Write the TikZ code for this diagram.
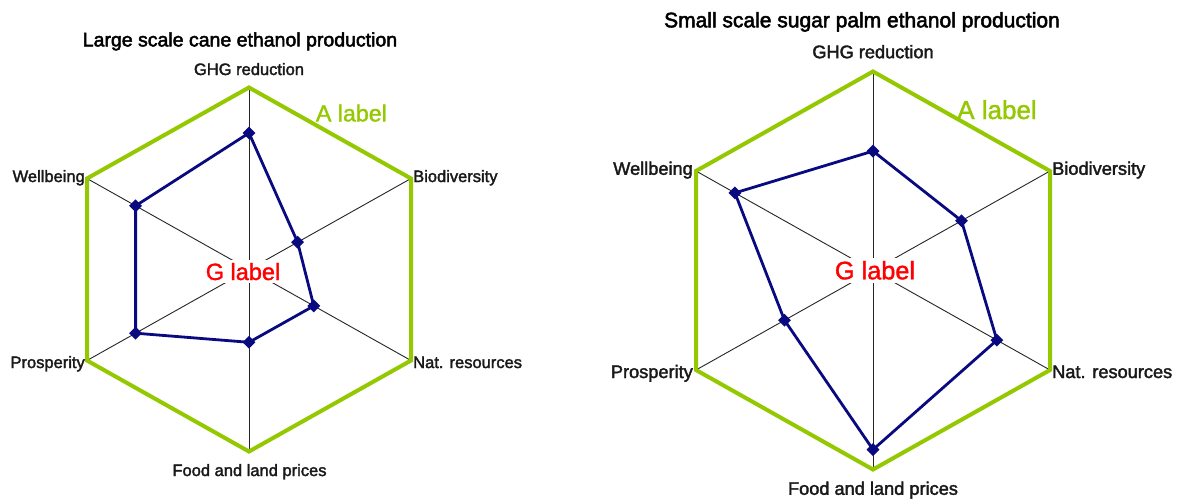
\documentclass[tikz,border=0pt]{standalone}
\usepackage{fontspec}
\setmainfont{Liberation Sans}
\newfontfamily\lblfont{Liberation Sans}[FakeBold=2.0]
\newfontfamily\ttlfont{Liberation Sans}[FakeBold=2.4]
\newfontfamily\bigfont{Liberation Sans}[FakeBold=1.4]
\usetikzlibrary{calc,shapes.geometric}
\definecolor{hexgreen}{RGB}{148,200,0}
\definecolor{datablue}{RGB}{10,10,128}
\definecolor{glabelred}{RGB}{255,0,0}
\newcommand{\radarframe}[5]{%
  \coordinate (#1c) at (#2,#3);
  \coordinate (#1v1) at ($(#1c)+(0,-#5)$);
  \coordinate (#1v2) at ($(#1c)+(#4,-#5/2)$);
  \coordinate (#1v3) at ($(#1c)+(#4,#5/2)$);
  \coordinate (#1v4) at ($(#1c)+(0,#5)$);
  \coordinate (#1v5) at ($(#1c)+(-#4,#5/2)$);
  \coordinate (#1v6) at ($(#1c)+(-#4,-#5/2)$);
}
\newcommand{\radardata}[7]{%
  \coordinate (#1p1) at ($(#1c)!#2!(#1v1)$);
  \coordinate (#1p2) at ($(#1c)!#3!(#1v2)$);
  \coordinate (#1p3) at ($(#1c)!#4!(#1v3)$);
  \coordinate (#1p4) at ($(#1c)!#5!(#1v4)$);
  \coordinate (#1p5) at ($(#1c)!#6!(#1v5)$);
  \coordinate (#1p6) at ($(#1c)!#7!(#1v6)$);
}
\tikzset{
  axisline/.style={draw=black!85, line width=0.9pt},
  hexline/.style={draw=hexgreen, line width=4pt, line join=miter},
  dataline/.style={draw=datablue, line width=2.8pt, line join=round},
  datamark/.style={diamond, fill=datablue, inner sep=0pt, minimum width=13pt, minimum height=13pt},
  lbl/.style={inner sep=0pt, font=\lblfont\fontsize{#1}{#1}\selectfont, text=black!90},
  ttl/.style={inner sep=0pt, font=\ttlfont\fontsize{#1}{#1}\selectfont, text=black},
  alabel/.style={inner sep=0pt, font=\bigfont\fontsize{#1}{#1}\selectfont, text=hexgreen},
  glabel/.style={inner sep=3pt, fill=white, font=\bigfont\fontsize{#1}{#1}\selectfont, text=glabelred},
}
\begin{document}
\begin{tikzpicture}[x=1pt,y=-1pt]
\useasboundingbox[fill=white] (0,0) rectangle (1178,499);

% ---------- left chart ----------
\radarframe{L}{249}{269.5}{162}{182}
\radardata{L}{0.75}{0.3}{0.4}{0.4}{0.7}{0.7}
\foreach \k in {1,...,6} {\draw[axisline] (Lc) -- (Lv\k);}
\node[glabel=23.5, anchor=base] (Lg) at (243,280) {G label};
\draw[hexline] (Lv1) -- (Lv2) -- (Lv3) -- (Lv4) -- (Lv5) -- (Lv6) -- cycle;
\draw[dataline] (Lp1) -- (Lp2) -- (Lp3) -- (Lp4) -- (Lp5) -- (Lp6) -- cycle;
\foreach \k in {1,...,6} {\node[datamark] (Lm\k) at (Lp\k) {};}
\node[ttl=19.5, anchor=base] (Lt) at (240,46.4) {Large scale cane ethanol production};
\node[lbl=16.5, anchor=base] (Ll1) at (249,75) {GHG reduction};
\node[lbl=16.5, anchor=base west] (Ll2) at (413,182) {Biodiversity};
\node[lbl=16.5, anchor=base west] (Ll3) at (413,368) {Nat. resources};
\node[lbl=16.5, anchor=base] (Ll4) at (249.5,476) {Food and land prices};
\node[lbl=16.5, anchor=base east] (Ll5) at (85,368) {Prosperity};
\node[lbl=16.5, anchor=base east] (Ll6) at (85,182) {Wellbeing};
\node[alabel=23.2, anchor=base] (La) at (351.4,121.4) {A label};

% ---------- right chart ----------
\radarframe{R}{873}{270.5}{177}{199}
\radardata{R}{0.6}{0.5}{0.7}{0.9}{0.5}{0.78}
\foreach \k in {1,...,6} {\draw[axisline] (Rc) -- (Rv\k);}
\node[glabel=25.3, anchor=base] (Rg) at (875,279.3) {G label};
\draw[hexline] (Rv1) -- (Rv2) -- (Rv3) -- (Rv4) -- (Rv5) -- (Rv6) -- cycle;
\draw[dataline] (Rp1) -- (Rp2) -- (Rp3) -- (Rp4) -- (Rp5) -- (Rp6) -- cycle;
\foreach \k in {1,...,6} {\node[datamark] (Rm\k) at (Rp\k) {};}
\node[ttl=21, anchor=base] (Rt) at (862,27.3) {Small scale sugar palm ethanol production};
\node[lbl=18.2, anchor=base] (Rl1) at (873,58.2) {GHG reduction};
\node[lbl=18.2, anchor=base west] (Rl2) at (1052,174.8) {Biodiversity};
\node[lbl=18.2, anchor=base west] (Rl3) at (1052,378) {Nat. resources};
\node[lbl=18.2, anchor=base] (Rl4) at (873,494.8) {Food and land prices};
\node[lbl=18.2, anchor=base east] (Rl5) at (693,378) {Prosperity};
\node[lbl=18.2, anchor=base east] (Rl6) at (693,174.8) {Wellbeing};
\node[alabel=26, anchor=base] (Ra) at (997,119) {A label};
\end{tikzpicture}
\end{document}
